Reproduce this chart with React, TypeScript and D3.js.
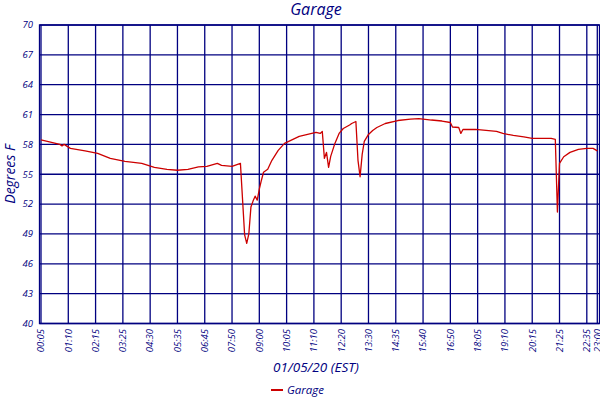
import * as React from 'react';
import * as d3 from 'd3';

// tick labels along the bottom, one every 13 samples (5 minute readings), last one short
const tickLabels = ["00:05", "01:10", "02:15", "03:25", "04:30", "05:35", "06:45", "07:50", "09:00", "10:05", "11:10",
    "12:20", "13:30", "14:35", "15:40", "16:50", "18:05", "19:10", "20:15", "21:25", "22:35", "23:00"];
const tickSamples = [0, 13, 26, 39, 52, 65, 78, 91, 104, 117, 130, 143, 156, 169, 182, 195, 208, 221, 234, 247, 260, 265];
const yTicks = [40, 43, 46, 49, 52, 55, 58, 61, 64, 67, 70];

// Garage readings (sample index, degrees F)
const sampleIdx = [0, 5, 9, 10, 11, 14, 21, 27, 33, 40, 48, 54, 60, 65, 70, 75, 79, 84, 86, 91,
    95, 96, 97, 98, 99, 100, 101, 102, 103, 104, 105, 106, 108, 110, 113, 116, 119, 123, 128, 131,
    133, 134, 135, 136, 137, 138, 140, 142, 144, 147, 148, 150, 151, 152, 153, 154, 156, 158, 160, 164,
    170, 176, 180, 186, 191, 195, 196, 199, 200, 201, 207, 212, 217, 220, 225, 230, 234, 243, 245, 246,
    247, 249, 252, 256, 260, 263, 265];
const tempF = [58.45, 58.2, 58.0, 57.85, 58.0, 57.6, 57.35, 57.1, 56.6, 56.3, 56.1, 55.7, 55.5, 55.4, 55.5, 55.75, 55.8, 56.1, 55.9, 55.8,
    56.1, 52.5, 48.9, 48.05, 49.0, 51.7, 52.3, 52.8, 52.4, 53.5, 54.4, 55.2, 55.5, 56.4, 57.4, 58.1, 58.4, 58.8, 59.05, 59.2,
    59.1, 59.3, 56.6, 57.2, 55.7, 56.8, 58.1, 59.1, 59.6, 59.95, 60.1, 60.3, 56.4, 54.75, 57.0, 58.3, 59.0, 59.4, 59.7, 60.1,
    60.4, 60.55, 60.6, 60.45, 60.35, 60.2, 59.75, 59.7, 59.1, 59.5, 59.5, 59.4, 59.3, 59.1, 58.9, 58.75, 58.6, 58.6, 58.5, 51.2,
    56.1, 56.76, 57.2, 57.5, 57.6, 57.6, 57.35];

const navy = "#000080";
const font = "'Open Sans', 'DejaVu Sans', sans-serif";

class App extends React.Component<any, any> {
    node: any = React.createRef();

    componentDidMount() {
        this.createGraph();
    }

    createGraph() {
        const width = 600, height = 400;
        const left = 39.5, right = 599.5, top = 25, bottom = 323.5;

        const svg = d3.select(this.node.current)
            .attr("width", width)
            .attr("height", height)
            .style("position", "absolute")
            .style("left", 0)
            .style("top", 0)
            .style("background", "#fff");
        svg.selectAll("*").remove();

        const xScale = d3.scaleLinear().domain([0, 265]).range([41, 597.3]);
        const yScale = d3.scaleLinear().domain([40, 70]).range([bottom, top]);

        const grid = svg.append("g")
            .attr("stroke", navy)
            .attr("stroke-width", 1.3)
            .attr("fill", "none");
        grid.selectAll(".hgrid")
            .data(yTicks)
            .enter()
            .append("line")
            .attr("x1", left)
            .attr("x2", right)
            .attr("y1", d => yScale(d))
            .attr("y2", d => yScale(d));
        grid.selectAll(".vgrid")
            .data(tickSamples)
            .enter()
            .append("line")
            .attr("y1", top)
            .attr("y2", bottom)
            .attr("x1", d => xScale(d))
            .attr("x2", d => xScale(d));
        grid.append("rect")
            .attr("x", left)
            .attr("y", top)
            .attr("width", right - left)
            .attr("height", bottom - top);

        // y tick labels
        svg.append("g")
            .selectAll("text")
            .data(yTicks)
            .enter()
            .append("text")
            .attr("x", 33)
            .attr("y", d => yScale(d))
            .attr("dy", "0.35em")
            .attr("text-anchor", "end")
            .style("font-family", font)
            .style("font-style", "italic")
            .style("font-size", "9.5px")
            .attr("fill", navy)
            .text(d => d);

        // x tick labels, rotated
        svg.append("g")
            .selectAll("text")
            .data(tickSamples)
            .enter()
            .append("text")
            .attr("transform", d => "translate(" + xScale(d) + ",329) rotate(-90)")
            .attr("dy", "0.35em")
            .attr("text-anchor", "end")
            .style("font-family", font)
            .style("font-style", "italic")
            .style("font-size", "9.5px")
            .attr("fill", navy)
            .text((d, i) => tickLabels[i]);

        const line = d3.line<number>()
            .x((d, i) => xScale(sampleIdx[i]))
            .y(d => yScale(d));
        svg.append("path")
            .datum(tempF)
            .attr("d", line)
            .attr("fill", "none")
            .attr("stroke", "#cc0000")
            .attr("stroke-width", 1.3)
            .attr("stroke-linejoin", "round");

        const label = (x, y, size, txt, rotate = false) => svg.append("text")
            .attr("transform", "translate(" + x + "," + y + ")" + (rotate ? " rotate(-90)" : ""))
            .attr("text-anchor", "middle")
            .style("font-family", font)
            .style("font-style", "italic")
            .style("font-size", size)
            .attr("fill", navy)
            .text(txt);

        label(316, 15, "16px", "Garage");
        label(15, 174, "14px", "Degrees F", true);
        label(316, 372, "13.5px", "01/05/20 (EST)");

        // legend
        svg.append("line")
            .attr("x1", 271).attr("x2", 283)
            .attr("y1", 390).attr("y2", 390)
            .attr("stroke", "#cc0000")
            .attr("stroke-width", 2);
        svg.append("text")
            .attr("x", 287)
            .attr("y", 394)
            .style("font-family", font)
            .style("font-style", "italic")
            .style("font-size", "11.5px")
            .attr("fill", navy)
            .text("Garage");
    }

    render() {
        return <svg ref={this.node}></svg>;
    }
}

export default App;
